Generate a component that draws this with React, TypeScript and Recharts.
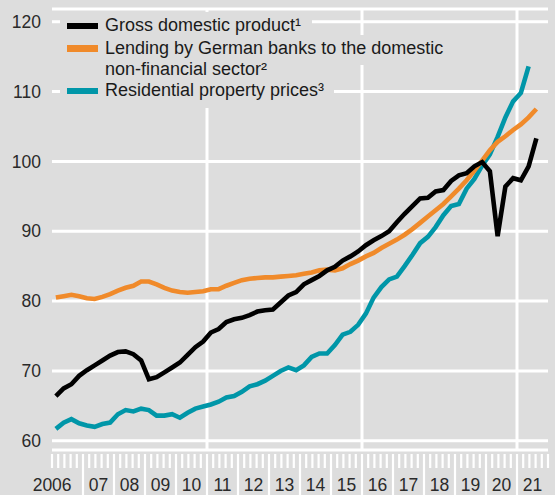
import React from 'react';
import { LineChart, Line, XAxis, YAxis, CartesianGrid, ReferenceLine } from 'recharts';

// Quarterly data, 2006 Q1 onward
const startYear = 2006;
const gdp = [
  66.4, 67.5, 68.1, 69.3, 70.1, 70.8, 71.5, 72.2, 72.7, 72.8, 72.4, 71.5,
  68.8, 69.1, 69.8, 70.5, 71.2, 72.3, 73.4, 74.2, 75.5, 76.0, 77.0, 77.4,
  77.6, 78.0, 78.5, 78.7, 78.8, 79.8, 80.8, 81.3, 82.4, 83.0, 83.6, 84.4,
  84.9, 85.8, 86.4, 87.1, 88.0, 88.7, 89.3, 90.0, 91.3, 92.5, 93.6, 94.7,
  94.8, 95.7, 95.9, 97.2, 98.0, 98.3, 99.3, 99.9, 98.6, 89.3, 96.4, 97.6,
  97.3, 99.3, 103.3,
];
const lending = [
  80.5, 80.7, 80.9, 80.7, 80.4, 80.3, 80.6, 81.0, 81.5, 81.9, 82.2, 82.8,
  82.8, 82.4, 81.9, 81.5, 81.3, 81.2, 81.3, 81.4, 81.7, 81.7, 82.2, 82.6,
  83.0, 83.2, 83.3, 83.4, 83.4, 83.5, 83.6, 83.7, 83.9, 84.1, 84.4, 84.5,
  84.4, 84.7, 85.3, 85.8, 86.4, 86.9, 87.6, 88.2, 88.8, 89.5, 90.3, 91.2,
  92.1, 93.0, 93.9, 95.0, 96.1, 97.3, 98.7, 100.1, 101.6, 102.8, 103.6, 104.5,
  105.3, 106.3, 107.5,
];
const property = [
  61.7, 62.6, 63.1, 62.5, 62.2, 62.0, 62.4, 62.6, 63.8, 64.4, 64.2, 64.6,
  64.4, 63.6, 63.6, 63.8, 63.3, 64.0, 64.6, 64.9, 65.2, 65.6, 66.2, 66.4,
  67.0, 67.8, 68.1, 68.6, 69.3, 70.0, 70.5, 70.1, 70.8, 72.0, 72.5, 72.5,
  73.7, 75.2, 75.6, 76.6, 78.2, 80.5, 82.0, 83.1, 83.5, 85.0, 86.6, 88.3,
  89.2, 90.6, 92.3, 93.6, 93.9, 96.1, 97.5, 99.4, 101.0, 103.5, 106.3, 108.6,
  109.8, 113.6,
];

const yearLabels = ['2006', '07', '08', '09', '10', '11', '12', '13', '14', '15', '16', '17', '18', '19', '20', '21'];
const yTicks = [60, 70, 80, 90, 100, 110, 120];
const gridYears = [2011, 2016, 2021];

const seriesNames = {
  gdp: 'Gross domestic product\u00b9',
  lending1: 'Lending by German banks to the domestic',
  lending2: 'non-financial sector\u00b2',
  property: 'Residential property prices\u00b3',
};

const COLORS = { gdp: '#000000', lending: '#f08a2a', property: '#0096a8' };
const BG = '#dddddd';
const FONT = '"Liberation Sans", Arial, sans-serif';
const FS = 17.5;
const LEGEND_FS = 18;

const data = gdp.map((g, i) => ({
  t: startYear + (i + 0.5) / 4,
  gdp: g,
  lending: lending[i],
  property: i < property.length ? property[i] : undefined,
}));

const endYear = startYear + yearLabels.length;
// tick positions in tenths of a year: even = tick marks (every 0.2y), 5 = label centre
const xTicks: number[] = [];
for (let k = 0; k <= yearLabels.length * 10; k++) {
  if (k % 2 === 0 || (k % 10 === 5 && k > 10)) xTicks.push(startYear + k / 10);
}

const XTick = (props: any) => {
  const { x, y, payload } = props;
  const k = Math.round((payload.value - startYear) * 10);
  const total = yearLabels.length * 10;
  const out: any[] = [];
  if (k % 2 === 0) {
    const long = k % 10 === 0 && k > 0 && k < total;
    out.push(
      <line key="l" x1={x} x2={x} y1={y + 4} y2={long ? y + 46 : y + 18} stroke="#fff" strokeWidth={2.2} />
    );
  }
  if (k % 10 === 5) {
    out.push(
      <text key="t" x={x} y={y + 41} textAnchor="middle" fill="#2a2a2a" fontSize={FS} fontFamily={FONT}>
        {yearLabels[Math.floor(k / 10)]}
      </text>
    );
  }
  if (k === 6) {
    out.push(
      <text key="t0" x={x + 1} y={y + 41} textAnchor="end" fill="#2a2a2a" fontSize={FS} fontFamily={FONT}>
        {yearLabels[0]}
      </text>
    );
  }
  return <g>{out}</g>;
};

// background masks behind legend rows (hide gridlines)
const masks = [
  { top: 12, height: 23, right: 312 },
  { top: 35, height: 30, right: 452 },
  { top: 65, height: 20, right: 282 },
  { top: 85, height: 23, right: 334 },
];

const textStyle = (top: number): React.CSSProperties => ({
  position: 'absolute',
  left: 105,
  top,
  lineHeight: '21px',
  whiteSpace: 'nowrap',
  fontSize: LEGEND_FS,
  color: '#1a1a1a',
  fontFamily: FONT,
});

const swatch = (color: string, top: number): React.CSSProperties => ({
  position: 'absolute',
  left: 67,
  top,
  width: 31,
  height: 6.5,
  background: color,
});

export default function App() {
  return (
    <div style={{ position: 'absolute', left: 0, top: 0, width: 555, height: 495, background: BG }}>
      <LineChart
        width={555}
        height={495}
        data={data}
        margin={{ top: 9, right: 7, bottom: 0, left: 0 }}
        style={{ fontFamily: FONT }}
      >
        <CartesianGrid horizontal vertical={false} stroke="#ffffff" strokeWidth={3} />
        {gridYears.map((yr) => (
          <ReferenceLine key={yr} x={yr} stroke="#ffffff" strokeWidth={3} ifOverflow="visible" />
        ))}
        <XAxis
          dataKey="t"
          type="number"
          domain={[startYear, endYear]}
          ticks={xTicks}
          interval={0}
          axisLine={false}
          tickLine={false}
          tickSize={0}
          tickMargin={0}
          height={45}
          tick={<XTick />}
          allowDataOverflow
        />
        <YAxis
          type="number"
          domain={[58.68, 121.82]}
          ticks={yTicks}
          interval={0}
          axisLine={false}
          tickLine={false}
          tickSize={0}
          tickMargin={11}
          width={52}
          allowDataOverflow
          tick={{ fill: '#2a2a2a', fontSize: FS, fontFamily: FONT }}
        />
        <Line dataKey="property" stroke={COLORS.property} strokeWidth={4.6} dot={false} isAnimationActive={false} connectNulls={false} />
        <Line dataKey="lending" stroke={COLORS.lending} strokeWidth={4.6} dot={false} isAnimationActive={false} />
        <Line dataKey="gdp" stroke={COLORS.gdp} strokeWidth={4.6} dot={false} isAnimationActive={false} />
      </LineChart>
      {masks.map((m, i) => (
        <div
          key={i}
          style={{ position: 'absolute', left: 60, top: m.top, width: m.right - 60, height: m.height, background: BG }}
        />
      ))}
      <div style={swatch(COLORS.gdp, 22.5)} />
      <div style={swatch(COLORS.lending, 45)} />
      <div style={swatch(COLORS.property, 87.5)} />
      <div style={textStyle(15.3)}>{seriesNames.gdp}</div>
      <div style={textStyle(38.3)}>
        {seriesNames.lending1}
        <br />
        {seriesNames.lending2}
      </div>
      <div style={textStyle(80.3)}>{seriesNames.property}</div>
    </div>
  );
}
